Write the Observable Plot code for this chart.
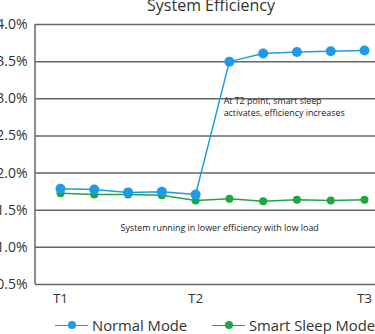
<!DOCTYPE html>
<html>
<head>
<meta charset="utf-8">
<script src="https://cdn.jsdelivr.net/npm/d3@7"></script>
<script src="https://cdn.jsdelivr.net/npm/@observablehq/plot@0.6"></script>
<style>
  html, body { margin: 0; padding: 0; background: #fff; overflow: hidden; }
  #wrap { position: relative; width: 375px; height: 334px; overflow: hidden; font-family: "Open Sans", sans-serif; }
  #title { position: absolute; left: 0; width: 422px; top: -6px; text-align: center; font-size: 16px; color: #333; }
  #chart { position: absolute; left: 0; top: 0; }
  #chart svg { overflow: visible; }
  .leg { position: absolute; top: 315px; font-size: 14.8px; color: #333; display: flex; align-items: center; white-space: nowrap; }
  .leg .sw { position: relative; width: 33px; height: 20px; margin-right: 4px; }
  .leg .sw .ln { position: absolute; left: 0; right: 0; top: 9.5px; height: 1.5px; }
  .leg .sw .dt { position: absolute; left: 12.5px; top: 6px; width: 8px; height: 8px; border-radius: 50%; }
</style>
</head>
<body>
<div id="wrap">
  <div id="title">System Efficiency</div>
  <div id="chart"></div>
  <div class="leg" style="left:55px"><div class="sw"><div class="ln" style="background:#1E9BE6"></div><div class="dt" style="background:#1E9BE6"></div></div>Normal Mode</div>
  <div class="leg" style="left:212px"><div class="sw"><div class="ln" style="background:#1DA743"></div><div class="dt" style="background:#1DA743"></div></div>Smart Sleep Mode</div>
</div>
<script>
const steps = [0, 1, 2, 3, 4, 5, 6, 7, 8, 9];
const normalMode = [1.79, 1.78, 1.74, 1.75, 1.71, 3.50, 3.61, 3.63, 3.64, 3.65];
const smartSleepMode = [1.73, 1.71, 1.71, 1.70, 1.63, 1.655, 1.62, 1.64, 1.63, 1.64];
const xTickSteps = [0, 4, 9];
const xTickLabels = ["T1", "T2", "T3"];
const yTicks = [0.5, 1.0, 1.5, 2.0, 2.5, 3.0, 3.5, 4.0];
const notes = [
  {step: 4.83, value: 2.90, text: "At T2 point, smart sleep\nactivates, efficiency increases"},
  {step: 1.78, value: 1.264, text: "System running in lower efficiency with low load"}
];

const blue = "#1E9BE6", green = "#1DA743";
const normal = steps.map((s, i) => ({step: s, value: normalMode[i]}));
const sleep = steps.map((s, i) => ({step: s, value: smartSleepMode[i]}));

const chart = Plot.plot({
  width: 375,
  height: 334,
  marginTop: 24,
  marginBottom: 50,
  marginLeft: 35,
  marginRight: 0,
  style: {fontFamily: "'Open Sans', sans-serif", color: "#333", background: "transparent"},
  x: {type: "linear", domain: [0, 9], range: [60, 364], label: null},
  y: {domain: [0.5, 4.0], range: [284, 24], label: null},
  marks: [
    Plot.ruleY(yTicks, {stroke: "#666", strokeWidth: 1.5}),
    Plot.axisY({ticks: yTicks, tickFormat: d => d.toFixed(1) + "%", tickSize: 0, tickPadding: 8, fontSize: 14, fill: "#333", label: null}),
    Plot.axisX({ticks: xTickSteps, tickFormat: (d) => xTickLabels[xTickSteps.indexOf(d)], tickSize: 0, tickPadding: 9, fontSize: 13.5, fill: "#333", label: null}),
    Plot.lineY(sleep, {x: "step", y: "value", stroke: green, strokeWidth: 1.5}),
    Plot.dot(sleep, {x: "step", y: "value", fill: green, r: 4}),
    Plot.lineY(normal, {x: "step", y: "value", stroke: blue, strokeWidth: 1.5}),
    Plot.dot(normal, {x: "step", y: "value", fill: blue, r: 5}),
    Plot.text(notes, {x: "step", y: "value", text: "text", textAnchor: "start", lineAnchor: "middle", fontSize: 8.9, lineHeight: 1.3, fill: "#222"})
  ]
});
document.getElementById("chart").appendChild(chart);
// vertical axis line on the left edge of the frame
const svg = d3.select(chart);
const yScale = chart.scale("y");
svg.append("line")
  .attr("x1", 35).attr("x2", 35)
  .attr("y1", yScale.apply(4.0)).attr("y2", yScale.apply(0.5))
  .attr("stroke", "#666").attr("stroke-width", 1.5);
</script>
</body>
</html>
